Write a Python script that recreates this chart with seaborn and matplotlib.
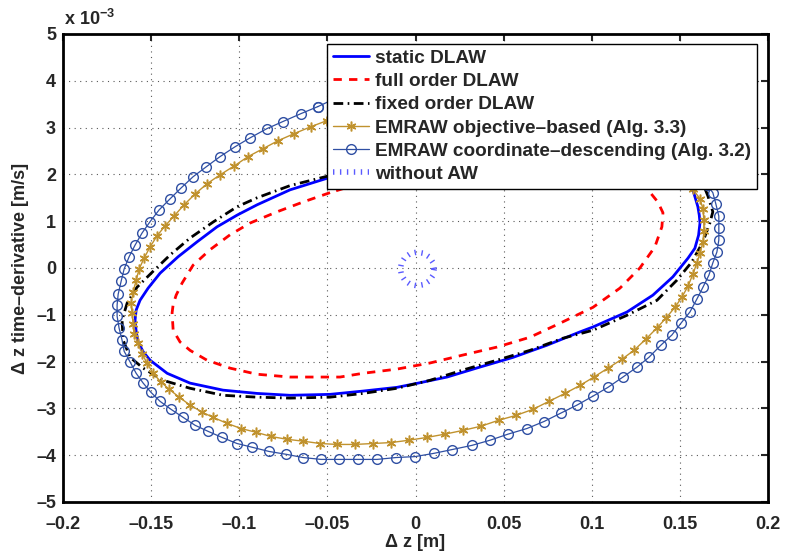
import matplotlib
matplotlib.use("Agg")
import matplotlib.pyplot as plt
import seaborn as sns

# ---------------- data (y values in units of 1e-3 m/s) ----------------
static_x = [-0.0491, -0.0712, -0.0899, -0.1012, -0.1126, -0.1239, -0.1347, -0.1449, -0.1517, -0.1563,
            -0.1585, -0.1591, -0.1585, -0.1574, -0.1545, -0.1506, -0.1409, -0.1279, -0.1092, -0.0899, -0.0712, -0.0485, -0.0298,
            -0.0105, 0.0014, 0.0179, 0.0363, 0.0553, 0.0746, 0.0930, 0.1007, 0.1200, 0.1347,
            0.1460, 0.1546, 0.1585, 0.1606, 0.1614, 0.1610, 0.1602, 0.1574, 0.1506, 0.1409, 0.1279, 0.1092,
            0.0899, 0.0712, 0.0485, 0.0298, 0.0105, -0.0014, -0.0179, -0.0363]
static_y = [1.93, 1.67, 1.35, 1.13, 0.88, 0.56, 0.24, -0.11, -0.43, -0.69,
            -0.90, -1.11, -1.35, -1.58, -1.79, -1.97, -2.25, -2.46, -2.61, -2.68, -2.72, -2.70, -2.63,
            -2.55, -2.46, -2.33, -2.12, -1.91, -1.65, -1.37, -1.26, -0.94, -0.58,
            -0.19, 0.21, 0.42, 0.70, 0.96, 1.13, 1.31, 1.67, 1.97, 2.25, 2.46, 2.61,
            2.68, 2.72, 2.70, 2.63, 2.55, 2.46, 2.33, 2.12]

full_x = [-0.0485, -0.0638, -0.0786, -0.0939, -0.1052, -0.1166, -0.1262, -0.1324, -0.1358, -0.1375, -0.1381,
          -0.1375, -0.1336, -0.1279, -0.1183, -0.1052, -0.0899, -0.0712, -0.0428, -0.0298, -0.0105,
          0.0082, 0.0269, 0.0462, 0.0649, 0.0820, 0.1007, 0.1160, 0.1273, 0.1358, 0.1398,
          0.1404, 0.1375, 0.1319, 0.1279, 0.1183, 0.1052, 0.0899, 0.0712, 0.0428, 0.0298,
          0.0105, -0.0082, -0.0269]
full_y = [1.61, 1.41, 1.20, 0.96, 0.71, 0.39, 0.06, -0.32, -0.58, -0.78, -0.96,
          -1.33, -1.58, -1.76, -1.97, -2.14, -2.27, -2.33, -2.33, -2.25, -2.16,
          -2.03, -1.86, -1.69, -1.48, -1.18, -0.84, -0.43, 0.00, 0.45, 0.88,
          1.18, 1.41, 1.67, 1.76, 1.97, 2.14, 2.27, 2.33, 2.33, 2.25,
          2.16, 2.03, 1.86]

fixed_x = [-0.0491, -0.0712, -0.0899, -0.1012, -0.1149, -0.1279, -0.1392, -0.1494, -0.1580, -0.1636,
           -0.1665, -0.1659, -0.1619, -0.1545, -0.1432, -0.1279, -0.1092, -0.0899, -0.0712, -0.0485,
           -0.0298, -0.0105, 0.0082, 0.0269, 0.0462, 0.0649, 0.0837, 0.1007, 0.1200, 0.1370,
           0.1483, 0.1568, 0.1631, 0.1670, 0.1687, 0.1659, 0.1619, 0.1545, 0.1432, 0.1279,
           0.1092, 0.0899, 0.0712, 0.0485, 0.0298, 0.0105, -0.0082, -0.0269]
fixed_y = [1.97, 1.76, 1.50, 1.31, 0.98, 0.64, 0.28, -0.09, -0.41, -0.75,
           -1.11, -1.54, -1.91, -2.14, -2.40, -2.57, -2.72, -2.76, -2.78, -2.76,
           -2.68, -2.57, -2.40, -2.18, -1.97, -1.76, -1.50, -1.33, -1.01, -0.69,
           -0.26, 0.13, 0.56, 0.96, 1.20, 1.54, 1.91, 2.14, 2.40, 2.57,
           2.72, 2.76, 2.78, 2.76, 2.68, 2.57, 2.40, 2.18]

obj_x = [-0.0502, -0.0593, -0.0689, -0.0780, -0.0865, -0.0950, -0.1029, -0.1109, -0.1183, -0.1251,
         -0.1313, -0.1370, -0.1421, -0.1466, -0.1506, -0.1540, -0.1568, -0.1585, -0.1602, -0.1614,
         -0.1608, -0.1602, -0.1597, -0.1574, -0.1551, -0.1523, -0.1489, -0.1443, -0.1398, -0.1341,
         -0.1279, -0.1211, -0.1149, -0.1069, -0.0990, -0.0905, -0.0820, -0.0729, -0.0638, -0.0542,
         -0.0445, -0.0343, -0.0241, -0.0139, -0.0037, 0.0065, 0.0167, 0.0269, 0.0372, 0.0474,
         0.0570, 0.0666, 0.0757, 0.0848, 0.0933, 0.1012, 0.1092, 0.1171, 0.1239, 0.1307,
         0.1370, 0.1421, 0.1472, 0.1512, 0.1546, 0.1574, 0.1597, 0.1614, 0.1631, 0.1636,
         0.1636, 0.1631, 0.1614, 0.1574, 0.1551, 0.1523, 0.1489, 0.1443, 0.1398, 0.1341,
         0.1279, 0.1211, 0.1149, 0.1069, 0.0990, 0.0905, 0.0820, 0.0729, 0.0638, 0.0542,
         0.0445, 0.0343, 0.0241, 0.0139, 0.0037, -0.0065, -0.0167, -0.0269, -0.0372]
obj_y = [3.15, 3.02, 2.87, 2.72, 2.55, 2.38, 2.18, 1.99, 1.80, 1.58,
         1.35, 1.11, 0.90, 0.69, 0.45, 0.21, -0.02, -0.26, -0.51, -0.75,
         -0.96, -1.20, -1.41, -1.61, -1.84, -2.03, -2.25, -2.44, -2.59, -2.76,
         -2.93, -3.08, -3.19, -3.32, -3.43, -3.51, -3.60, -3.66, -3.70, -3.75,
         -3.77, -3.77, -3.75, -3.73, -3.68, -3.62, -3.55, -3.47, -3.38, -3.25,
         -3.15, -3.02, -2.85, -2.68, -2.51, -2.33, -2.14, -1.95, -1.76, -1.52,
         -1.28, -1.07, -0.84, -0.62, -0.39, -0.13, 0.11, 0.32, 0.56, 0.79,
         1.03, 1.26, 1.48, 1.68, 1.84, 2.03, 2.25, 2.44, 2.59, 2.76,
         2.93, 3.08, 3.19, 3.32, 3.43, 3.51, 3.60, 3.66, 3.70, 3.75,
         3.77, 3.77, 3.75, 3.73, 3.68, 3.62, 3.55, 3.47, 3.38]

coord_x = [-0.0553, -0.0649, -0.0752, -0.0842, -0.0939, -0.1024, -0.1109, -0.1188, -0.1262, -0.1330,
           -0.1392, -0.1455, -0.1506, -0.1551, -0.1591, -0.1625, -0.1653, -0.1670, -0.1687, -0.1693,
           -0.1693, -0.1682, -0.1665, -0.1653, -0.1619, -0.1585, -0.1545, -0.1500, -0.1449, -0.1387,
           -0.1319, -0.1251, -0.1177, -0.1098, -0.1013, -0.0927, -0.0831, -0.0735, -0.0638, -0.0536,
           -0.0434, -0.0326, -0.0218, -0.0111, -0.0003, 0.0105, 0.0207, 0.0320, 0.0423, 0.0525,
           0.0632, 0.0729, 0.0825, 0.0916, 0.1006, 0.1092, 0.1177, 0.1256, 0.1324, 0.1392,
           0.1455, 0.1506, 0.1557, 0.1597, 0.1631, 0.1665, 0.1687, 0.1710, 0.1721, 0.1721,
           0.1721, 0.1704, 0.1687, 0.1653, 0.1619, 0.1585, 0.1545, 0.1500, 0.1449, 0.1387,
           0.1319, 0.1251, 0.1177, 0.1098, 0.1013, 0.0927, 0.0831, 0.0735, 0.0638, 0.0536,
           0.0434, 0.0326, 0.0218, 0.0111, 0.0003, -0.0105, -0.0207, -0.0320, -0.0423]
coord_y = [3.45, 3.30, 3.13, 2.98, 2.78, 2.59, 2.38, 2.16, 1.95, 1.71,
           1.48, 1.24, 0.99, 0.75, 0.49, 0.24, -0.02, -0.28, -0.56, -0.79,
           -1.03, -1.28, -1.54, -1.78, -2.01, -2.25, -2.46, -2.66, -2.85, -3.02,
           -3.19, -3.36, -3.49, -3.62, -3.75, -3.83, -3.92, -3.98, -4.05, -4.09,
           -4.09, -4.09, -4.09, -4.05, -4.03, -3.96, -3.88, -3.79, -3.68, -3.55,
           -3.43, -3.28, -3.10, -2.93, -2.74, -2.55, -2.33, -2.12, -1.91, -1.65,
           -1.43, -1.18, -0.94, -0.66, -0.41, -0.15, 0.11, 0.34, 0.60, 0.86,
           1.11, 1.37, 1.61, 1.78, 2.01, 2.25, 2.46, 2.66, 2.85, 3.02,
           3.19, 3.36, 3.49, 3.62, 3.75, 3.83, 3.92, 3.98, 4.05, 4.09,
           4.09, 4.09, 4.09, 4.05, 4.03, 3.96, 3.88, 3.79, 3.68]

noaw_x = [0.0106, 0.0099, 0.0078, 0.0047, 0.0010, -0.0027, -0.0058, -0.0079,
          -0.0086, -0.0079, -0.0058, -0.0027, 0.0010, 0.0047, 0.0078, 0.0099]
noaw_y = [-0.02, 0.118, 0.235, 0.313, 0.34, 0.313, 0.235, 0.118,
          -0.02, -0.158, -0.275, -0.353, -0.38, -0.353, -0.275, -0.158]

labels = ["static DLAW", "full order DLAW", "fixed order DLAW",
          "EMRAW objective\u2013based (Alg. 3.3)",
          "EMRAW coordinate\u2013descending (Alg. 3.2)",
          "without AW"]
xticks = [-0.2, -0.15, -0.1, -0.05, 0, 0.05, 0.1, 0.15, 0.2]
xticklabels = ["\u20130.2", "\u20130.15", "\u20130.1", "\u20130.05", "0", "0.05", "0.1", "0.15", "0.2"]
yticks = [-5, -4, -3, -2, -1, 0, 1, 2, 3, 4, 5]
yticklabels = ["\u20135", "\u20134", "\u20133", "\u20132", "\u20131", "0", "1", "2", "3", "4", "5"]

# ---------------- style ----------------
sns.set_style("white")
plt.rcParams["font.family"] = ["Liberation Sans", "DejaVu Sans"]
plt.rcParams["font.weight"] = "bold"
plt.rcParams["mathtext.fontset"] = "custom"
plt.rcParams["mathtext.rm"] = "Liberation Sans:bold"
plt.rcParams["mathtext.default"] = "rm"

fig = plt.figure(figsize=(7.91, 5.56), dpi=100)
ax = fig.add_axes([63 / 791, 54 / 556, 705 / 791, 468 / 556])


def closed(v):
    return list(v) + [v[0]]


gold = "#C0922E"
navy = "#2F4FA3"

sns.lineplot(x=closed(static_x), y=closed(static_y), sort=False, estimator=None, ax=ax,
             color="#0000FF", linewidth=2.0, label=labels[0])
sns.lineplot(x=closed(full_x), y=closed(full_y), sort=False, estimator=None, ax=ax,
             color="#FF0000", linewidth=2.0, linestyle=(0, (3, 2.6)), label=labels[1])
sns.lineplot(x=closed(fixed_x), y=closed(fixed_y), sort=False, estimator=None, ax=ax,
             color="#000000", linewidth=2.0, linestyle=(0, (3.5, 1.6, 0.6, 1.6)), label=labels[2])
sns.lineplot(x=closed(obj_x), y=closed(obj_y), sort=False, estimator=None, ax=ax,
             color=gold, linewidth=1.0, marker=(6, 2, 0), markersize=7,
             markeredgewidth=1.1, markeredgecolor=gold, markerfacecolor=gold, label=labels[3])
sns.lineplot(x=closed(coord_x), y=closed(coord_y), sort=False, estimator=None, ax=ax,
             color=navy, linewidth=0.9, marker="o", markersize=7,
             markerfacecolor="none", markeredgecolor=navy, markeredgewidth=1.0,
             label=labels[4])
sns.lineplot(x=closed(noaw_x), y=closed(noaw_y), sort=False, estimator=None, ax=ax,
             color="#5A5AFF", linewidth=4.0, linestyle=(0, (0.25, 1.0)), label=labels[5])

ax.set_xlim(-0.2, 0.2)
ax.set_ylim(-5, 5)
ax.set_xticks(xticks)
ax.set_xticklabels(xticklabels)
ax.set_yticks(yticks)
ax.set_yticklabels(yticklabels)
ax.tick_params(axis="both", direction="in", length=5, width=1.5, top=True, right=True,
               labelsize=13)
ax.tick_params(axis="x", pad=10)
ax.tick_params(axis="y", pad=5)
for lab in ax.get_xticklabels() + ax.get_yticklabels():
    lab.set_fontweight("bold")
for sp in ax.spines.values():
    sp.set_linewidth(2.0)
    sp.set_color("black")
ax.grid(True, color="0.35", linestyle=(0, (1, 4)), linewidth=0.8)

ax.set_xlabel("\u0394 z [m]", fontsize=13, fontweight="bold", labelpad=1)
ax.set_ylabel("\u0394 z time\u2013derivative [m/s]", fontsize=13, fontweight="bold", labelpad=5)
fig.text(64 / 791, 1 - 19 / 556, "x 10$^{\u22123}$", fontsize=13, fontweight="bold",
         ha="left", va="center")

leg = ax.legend(loc="upper right", bbox_to_anchor=(0.984, 0.979), fontsize=13.7,
                frameon=True, fancybox=False, framealpha=1, edgecolor="black",
                handlelength=1.9, handletextpad=0.3, labelspacing=0.31,
                borderpad=0.3, borderaxespad=0)
leg.get_frame().set_linewidth(1.0)
for t in leg.get_texts():
    t.set_fontweight("bold")

fig.savefig("out.png", dpi=100, facecolor="white")
